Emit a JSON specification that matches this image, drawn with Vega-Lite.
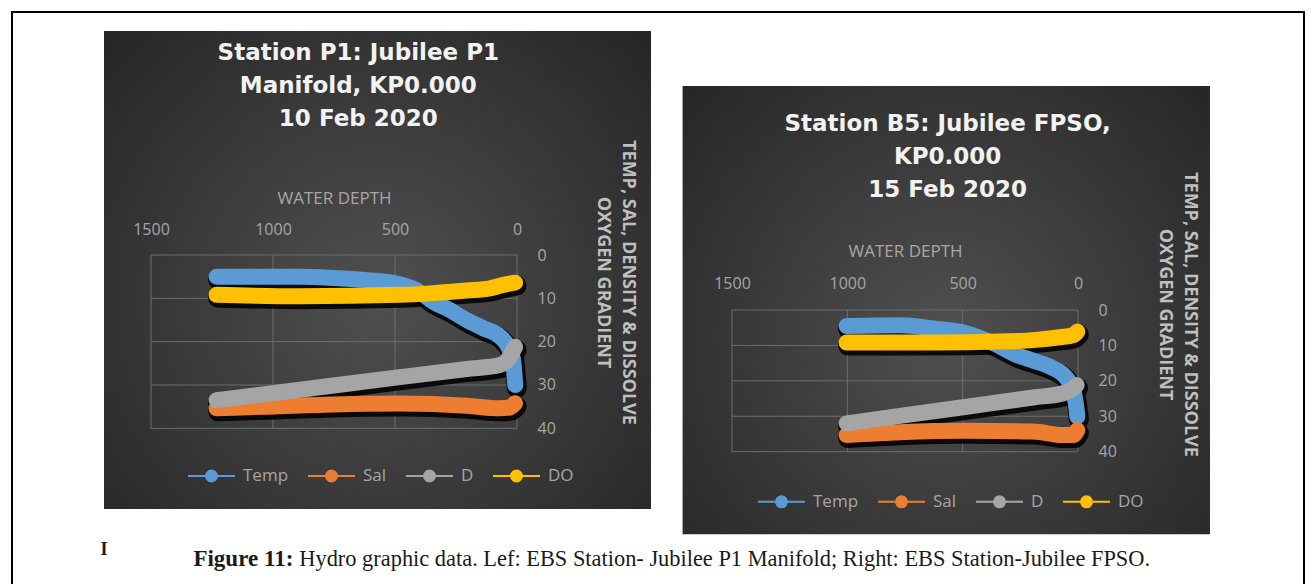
{
  "$schema": "https://vega.github.io/schema/vega-lite/v6.json",
  "width": 1292,
  "height": 600,
  "autosize": {"type": "none"},
  "padding": {"left": 12, "top": 12, "right": 12, "bottom": 0},
  "background": "white",
  "view": {"stroke": "#000000", "strokeWidth": 2, "fill": "white"},
  "datasets": {
    "left": [
      {"series": "Temp", "depth": 1231, "value": 5.0},
      {"series": "Temp", "depth": 1050, "value": 5.0},
      {"series": "Temp", "depth": 889, "value": 5.0},
      {"series": "Temp", "depth": 750, "value": 5.3},
      {"series": "Temp", "depth": 616, "value": 5.8},
      {"series": "Temp", "depth": 507, "value": 6.4},
      {"series": "Temp", "depth": 411, "value": 8.1},
      {"series": "Temp", "depth": 343, "value": 10.8},
      {"series": "Temp", "depth": 275, "value": 12.7},
      {"series": "Temp", "depth": 206, "value": 15.0},
      {"series": "Temp", "depth": 138, "value": 16.9},
      {"series": "Temp", "depth": 70, "value": 18.8},
      {"series": "Temp", "depth": 36, "value": 21.2},
      {"series": "Temp", "depth": 16, "value": 24.2},
      {"series": "Temp", "depth": 11, "value": 27.3},
      {"series": "Temp", "depth": 7, "value": 30.0},
      {"series": "Sal", "depth": 1231, "value": 35.4},
      {"series": "Sal", "depth": 1026, "value": 35.0},
      {"series": "Sal", "depth": 753, "value": 34.5},
      {"series": "Sal", "depth": 480, "value": 34.3},
      {"series": "Sal", "depth": 206, "value": 34.8},
      {"series": "Sal", "depth": 70, "value": 35.4},
      {"series": "Sal", "depth": 29, "value": 35.2},
      {"series": "Sal", "depth": 8, "value": 34.2},
      {"series": "D", "depth": 1231, "value": 33.5},
      {"series": "D", "depth": 889, "value": 31.1},
      {"series": "D", "depth": 480, "value": 28.2},
      {"series": "D", "depth": 206, "value": 26.3},
      {"series": "D", "depth": 70, "value": 25.4},
      {"series": "D", "depth": 29, "value": 23.5},
      {"series": "D", "depth": 8, "value": 21.2},
      {"series": "DO", "depth": 1231, "value": 9.2},
      {"series": "DO", "depth": 889, "value": 9.5},
      {"series": "DO", "depth": 480, "value": 9.2},
      {"series": "DO", "depth": 343, "value": 8.8},
      {"series": "DO", "depth": 206, "value": 8.2},
      {"series": "DO", "depth": 111, "value": 7.7},
      {"series": "DO", "depth": 56, "value": 6.9},
      {"series": "DO", "depth": 8, "value": 6.4}
    ],
    "right": [
      {"series": "Temp", "depth": 1003, "value": 4.5},
      {"series": "Temp", "depth": 772, "value": 4.3},
      {"series": "Temp", "depth": 627, "value": 5.2},
      {"series": "Temp", "depth": 483, "value": 6.6},
      {"series": "Temp", "depth": 367, "value": 9.4},
      {"series": "Temp", "depth": 266, "value": 12.7},
      {"series": "Temp", "depth": 194, "value": 14.3},
      {"series": "Temp", "depth": 121, "value": 16.0},
      {"series": "Temp", "depth": 49, "value": 19.3},
      {"series": "Temp", "depth": 20, "value": 22.6},
      {"series": "Temp", "depth": 12, "value": 25.4},
      {"series": "Temp", "depth": 6, "value": 28.2},
      {"series": "Temp", "depth": 3, "value": 30.1},
      {"series": "Sal", "depth": 1003, "value": 35.3},
      {"series": "Sal", "depth": 772, "value": 34.5},
      {"series": "Sal", "depth": 483, "value": 34.1},
      {"series": "Sal", "depth": 194, "value": 34.3},
      {"series": "Sal", "depth": 64, "value": 35.3},
      {"series": "Sal", "depth": 20, "value": 35.3},
      {"series": "Sal", "depth": 3, "value": 33.9},
      {"series": "D", "depth": 1003, "value": 32.0},
      {"series": "D", "depth": 772, "value": 29.9},
      {"series": "D", "depth": 483, "value": 27.3},
      {"series": "D", "depth": 194, "value": 24.7},
      {"series": "D", "depth": 64, "value": 23.5},
      {"series": "D", "depth": 20, "value": 22.1},
      {"series": "D", "depth": 6, "value": 21.2},
      {"series": "DO", "depth": 1003, "value": 9.2},
      {"series": "DO", "depth": 627, "value": 9.2},
      {"series": "DO", "depth": 338, "value": 8.9},
      {"series": "DO", "depth": 194, "value": 8.5},
      {"series": "DO", "depth": 78, "value": 7.7},
      {"series": "DO", "depth": 20, "value": 7.1},
      {"series": "DO", "depth": 3, "value": 6.1}
    ],
    "gridDepth": [{"t": 0}, {"t": 500}, {"t": 1000}, {"t": 1500}],
    "gridValue": [{"t": 0}, {"t": 10}, {"t": 20}, {"t": 30}, {"t": 40}]
  },
  "layer": [
    {
      "layer": [
        {
          "data": {"values": [{}]},
          "mark": {"type": "rect", "color": {"gradient": "radial", "x1": 0.5, "y1": 0.55, "x2": 0.5, "y2": 0.55, "r1": 0, "r2": 0.72, "stops": [{"offset": 0, "color": "#505050"}, {"offset": 1, "color": "#242424"}]}},
          "encoding": {
            "x": {"datum": 1692.6, "type": "quantitative", "scale": {"domain": [0, 1500], "range": [505, 139], "zero": false, "nice": false}},
            "x2": {"datum": -549.2},
            "y": {"datum": -51.7, "type": "quantitative", "scale": {"domain": [0, 40], "range": [243, 416.3], "zero": false, "nice": false}},
            "y2": {"datum": 58.6}
          }
        },
        {
          "data": {"name": "gridDepth"},
          "mark": {"type": "rule", "color": "#6d6d6d", "strokeWidth": 1},
          "encoding": {
            "x": {"field": "t", "type": "quantitative", "scale": {"domain": [0, 1500], "range": [505, 139], "zero": false, "nice": false}},
            "y": {"datum": 0, "type": "quantitative", "scale": {"domain": [0, 40], "range": [243, 416.3], "zero": false, "nice": false}},
            "y2": {"datum": 40}
          }
        },
        {
          "data": {"name": "gridValue"},
          "mark": {"type": "rule", "color": "#6d6d6d", "strokeWidth": 1},
          "encoding": {
            "y": {"field": "t", "type": "quantitative", "scale": {"domain": [0, 40], "range": [243, 416.3], "zero": false, "nice": false}},
            "x": {"datum": 0, "type": "quantitative", "scale": {"domain": [0, 1500], "range": [505, 139], "zero": false, "nice": false}},
            "x2": {"datum": 1500}
          }
        },
        {
          "data": {"name": "left"},
          "mark": {"type": "line", "color": "#000000", "strokeWidth": 20, "opacity": 0.85, "xOffset": 1.5, "yOffset": 3, "strokeCap": "round", "strokeJoin": "round", "interpolate": "monotone"},
          "encoding": {
            "x": {"field": "depth", "type": "quantitative", "scale": {"domain": [0, 1500], "range": [505, 139], "zero": false, "nice": false}},
            "y": {"field": "value", "type": "quantitative", "scale": {"domain": [0, 40], "range": [243, 416.3], "zero": false, "nice": false}},
            "detail": {"field": "series", "type": "nominal"}
          }
        },
        {
          "data": {"name": "left"},
          "mark": {"type": "line", "strokeWidth": 16, "strokeCap": "round", "strokeJoin": "round", "interpolate": "monotone"},
          "encoding": {
            "x": {"field": "depth", "type": "quantitative", "scale": {"domain": [0, 1500], "range": [505, 139], "zero": false, "nice": false},
              "axis": {"orient": "top", "offset": -243, "values": [0, 500, 1000, 1500], "format": "d", "domain": false, "ticks": false, "grid": false, "labelFlush": false, "labelOverlap": false, "labelPadding": 21, "labelBaseline": "alphabetic", "labelFont": "Open Sans", "labelFontSize": 16, "labelColor": "#a6a6a6", "title": "WATER DEPTH", "titleFont": "Open Sans", "titleFontSize": 17, "titleFontWeight": "normal", "titleColor": "#a6a6a6", "titleBaseline": "alphabetic", "titleY": -52, "zindex": 1}},
            "y": {"field": "value", "type": "quantitative", "scale": {"domain": [0, 40], "range": [243, 416.3], "zero": false, "nice": false},
              "axis": {"orient": "right", "offset": -787, "values": [0, 10, 20, 30, 40], "format": "d", "domain": false, "ticks": false, "grid": false, "labelFlush": false, "labelOverlap": false, "labelPadding": 20, "labelFont": "Open Sans", "labelFontSize": 16, "labelColor": "#a6a6a6", "title": ["TEMP, SAL, DENSITY & DISSOLVE", "OXYGEN GRADIENT"], "titleFont": "Open Sans", "titleFontSize": 18, "titleFontWeight": "bold", "titleColor": "#bfbfbf", "titleAngle": 90, "titleBaseline": "alphabetic", "titleAlign": "center", "titleX": 105, "titleY": 270, "titleLineHeight": 25, "zindex": 1}},
            "color": {"field": "series", "type": "nominal",
              "scale": {"domain": ["Temp", "Sal", "D", "DO"], "range": ["#5b9bd5", "#ed7d31", "#a5a5a5", "#ffc000"]},
              "legend": {"orient": "none", "legendX": 175, "legendY": 439.5, "direction": "horizontal", "title": null, "padding": 0, "columnPadding": 15, "labelOffset": 7, "labelFont": "Open Sans", "labelFontSize": 17, "labelColor": "#a6a6a6", "symbolType": "M-1,0H1M-0.234,0A0.234,0.234,0,1,1,0.234,0A0.234,0.234,0,1,1,-0.234,0Z", "symbolSize": 2209, "symbolStrokeWidth": 2,
                "encode": {"symbols": {"update": {"shape": {"value": "M-1,0H1M-0.234,0A0.234,0.234,0,1,1,0.234,0A0.234,0.234,0,1,1,-0.234,0Z"}, "size": {"value": 2209}, "fill": {"scale": "color", "field": "value"}, "stroke": {"scale": "color", "field": "value"}, "strokeWidth": {"value": 2}, "opacity": {"value": 1}}}}}
            }
          }
        },
        {
          "data": {"values": [{}]},
          "mark": {"type": "text", "font": "DejaVu Sans", "fontWeight": "bold", "fontSize": 23, "color": "#f2f2f2", "align": "center", "baseline": "alphabetic", "lineHeight": 33, "text": ["Station P1: Jubilee P1", "Manifold, KP0.000", "10 Feb 2020"]},
          "encoding": {
            "x": {"datum": 650.4, "type": "quantitative", "scale": {"domain": [0, 1500], "range": [505, 139], "zero": false, "nice": false}},
            "y": {"datum": -45, "type": "quantitative", "scale": {"domain": [0, 40], "range": [243, 416.3], "zero": false, "nice": false}}
          }
        },
        {
          "data": {"values": [{}]},
          "mark": {"type": "text", "font": "Liberation Serif", "fontWeight": "bold", "fontSize": 23, "color": "#1a1a1a", "align": "right", "baseline": "alphabetic", "dx": -3, "text": "Figure 11:"},
          "encoding": {
            "x": {"datum": 904.5, "type": "quantitative", "scale": {"domain": [0, 1500], "range": [505, 139], "zero": false, "nice": false}},
            "y": {"datum": 71.8, "type": "quantitative", "scale": {"domain": [0, 40], "range": [243, 416.3], "zero": false, "nice": false}}
          }
        },
        {
          "data": {"values": [{}]},
          "mark": {"type": "text", "font": "Liberation Serif", "fontWeight": "normal", "fontSize": 22.4, "color": "#1a1a1a", "align": "left", "baseline": "alphabetic", "dx": 3, "text": "Hydro graphic data. Lef: EBS Station- Jubilee P1 Manifold; Right: EBS Station-Jubilee FPSO."},
          "encoding": {
            "x": {"datum": 904.5, "type": "quantitative", "scale": {"domain": [0, 1500], "range": [505, 139], "zero": false, "nice": false}},
            "y": {"datum": 71.8, "type": "quantitative", "scale": {"domain": [0, 40], "range": [243, 416.3], "zero": false, "nice": false}}
          }
        },
        {
          "data": {"values": [{}]},
          "mark": {"type": "text", "font": "Liberation Serif", "fontWeight": "bold", "fontSize": 18, "color": "#1a1a1a", "align": "center", "baseline": "alphabetic", "text": "I"},
          "encoding": {
            "x": {"datum": 1692.6, "type": "quantitative", "scale": {"domain": [0, 1500], "range": [505, 139], "zero": false, "nice": false}},
            "y": {"datum": 69.2, "type": "quantitative", "scale": {"domain": [0, 40], "range": [243, 416.3], "zero": false, "nice": false}}
          }
        }
      ]
    },
    {
      "layer": [
        {
          "data": {"values": [{}]},
          "mark": {"type": "rect", "color": {"gradient": "radial", "x1": 0.5, "y1": 0.55, "x2": 0.5, "y2": 0.55, "r1": 0, "r2": 0.72, "stops": [{"offset": 0, "color": "#505050"}, {"offset": 1, "color": "#242424"}]}},
          "encoding": {
            "x": {"datum": 1714.2, "type": "quantitative", "scale": {"domain": [0, 1500], "range": [1066, 720], "zero": false, "nice": false}},
            "x2": {"datum": -572.2},
            "y": {"datum": -63.2, "type": "quantitative", "scale": {"domain": [0, 40], "range": [298, 439.7], "zero": false, "nice": false}},
            "y2": {"datum": 63.3}
          }
        },
        {
          "data": {"name": "gridDepth"},
          "mark": {"type": "rule", "color": "#6d6d6d", "strokeWidth": 1},
          "encoding": {
            "x": {"field": "t", "type": "quantitative", "scale": {"domain": [0, 1500], "range": [1066, 720], "zero": false, "nice": false}},
            "y": {"datum": 0, "type": "quantitative", "scale": {"domain": [0, 40], "range": [298, 439.7], "zero": false, "nice": false}},
            "y2": {"datum": 40}
          }
        },
        {
          "data": {"name": "gridValue"},
          "mark": {"type": "rule", "color": "#6d6d6d", "strokeWidth": 1},
          "encoding": {
            "y": {"field": "t", "type": "quantitative", "scale": {"domain": [0, 40], "range": [298, 439.7], "zero": false, "nice": false}},
            "x": {"datum": 0, "type": "quantitative", "scale": {"domain": [0, 1500], "range": [1066, 720], "zero": false, "nice": false}},
            "x2": {"datum": 1500}
          }
        },
        {
          "data": {"name": "right"},
          "mark": {"type": "line", "color": "#000000", "strokeWidth": 20, "opacity": 0.85, "xOffset": 1.5, "yOffset": 3, "strokeCap": "round", "strokeJoin": "round", "interpolate": "monotone"},
          "encoding": {
            "x": {"field": "depth", "type": "quantitative", "scale": {"domain": [0, 1500], "range": [1066, 720], "zero": false, "nice": false}},
            "y": {"field": "value", "type": "quantitative", "scale": {"domain": [0, 40], "range": [298, 439.7], "zero": false, "nice": false}},
            "detail": {"field": "series", "type": "nominal"}
          }
        },
        {
          "data": {"name": "right"},
          "mark": {"type": "line", "strokeWidth": 16, "strokeCap": "round", "strokeJoin": "round", "interpolate": "monotone"},
          "encoding": {
            "x": {"field": "depth", "type": "quantitative", "scale": {"domain": [0, 1500], "range": [1066, 720], "zero": false, "nice": false},
              "axis": {"orient": "top", "offset": -298, "values": [0, 500, 1000, 1500], "format": "d", "domain": false, "ticks": false, "grid": false, "labelFlush": false, "labelOverlap": false, "labelPadding": 22, "labelBaseline": "alphabetic", "labelFont": "Open Sans", "labelFontSize": 16, "labelColor": "#a6a6a6", "title": "WATER DEPTH", "titleFont": "Open Sans", "titleFontSize": 17, "titleFontWeight": "normal", "titleColor": "#a6a6a6", "titleBaseline": "alphabetic", "titleY": -53.5, "zindex": 1}},
            "y": {"field": "value", "type": "quantitative", "scale": {"domain": [0, 40], "range": [298, 439.7], "zero": false, "nice": false},
              "axis": {"orient": "right", "offset": -226, "values": [0, 10, 20, 30, 40], "format": "d", "domain": false, "ticks": false, "grid": false, "labelFlush": false, "labelOverlap": false, "labelPadding": 20, "labelFont": "Open Sans", "labelFontSize": 16, "labelColor": "#a6a6a6", "title": ["TEMP, SAL, DENSITY & DISSOLVE", "OXYGEN GRADIENT"], "titleFont": "Open Sans", "titleFontSize": 18, "titleFontWeight": "bold", "titleColor": "#bfbfbf", "titleAngle": 90, "titleBaseline": "alphabetic", "titleAlign": "center", "titleX": 106, "titleY": 302, "titleLineHeight": 25, "zindex": 1}},
            "color": {"field": "series", "type": "nominal",
              "scale": {"domain": ["Temp", "Sal", "D", "DO"], "range": ["#5b9bd5", "#ed7d31", "#a5a5a5", "#ffc000"]},
              "legend": {"orient": "none", "legendX": 745, "legendY": 465.3, "direction": "horizontal", "title": null, "padding": 0, "columnPadding": 15, "labelOffset": 7, "labelFont": "Open Sans", "labelFontSize": 17, "labelColor": "#a6a6a6", "symbolType": "M-1,0H1M-0.234,0A0.234,0.234,0,1,1,0.234,0A0.234,0.234,0,1,1,-0.234,0Z", "symbolSize": 2209, "symbolStrokeWidth": 2,
                "encode": {"symbols": {"update": {"shape": {"value": "M-1,0H1M-0.234,0A0.234,0.234,0,1,1,0.234,0A0.234,0.234,0,1,1,-0.234,0Z"}, "size": {"value": 2209}, "fill": {"scale": "color", "field": "value"}, "stroke": {"scale": "color", "field": "value"}, "strokeWidth": {"value": 2}, "opacity": {"value": 1}}}}}
            }
          }
        },
        {
          "data": {"values": [{}]},
          "mark": {"type": "text", "font": "DejaVu Sans", "fontWeight": "bold", "fontSize": 23, "color": "#f2f2f2", "align": "center", "baseline": "alphabetic", "lineHeight": 33, "text": ["Station B5: Jubilee FPSO,", "KP0.000", "15 Feb 2020"]},
          "encoding": {
            "x": {"datum": 565.3, "type": "quantitative", "scale": {"domain": [0, 1500], "range": [1066, 720], "zero": false, "nice": false}},
            "y": {"datum": -50.5, "type": "quantitative", "scale": {"domain": [0, 40], "range": [298, 439.7], "zero": false, "nice": false}}
          }
        }
      ]
    }
  ],
  "resolve": {
    "scale": {"x": "independent", "y": "independent"},
    "axis": {"x": "independent", "y": "independent"},
    "legend": {"color": "independent"}
  }
}
